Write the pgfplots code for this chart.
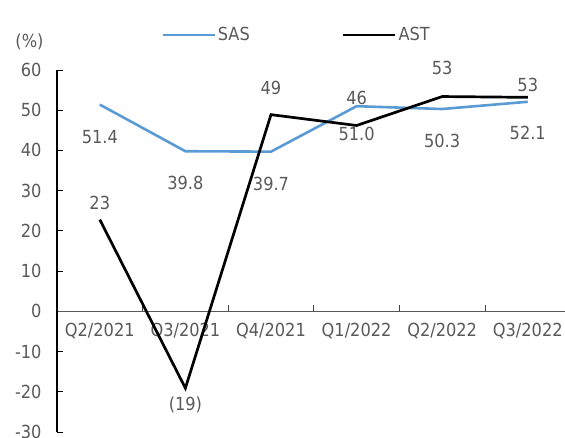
\documentclass[border=0pt]{standalone}
\usepackage{fontspec}
\setmainfont{DejaVu Sans Condensed}
\usepackage{pgfplots}
\pgfplotsset{compat=1.18}
\usepackage{pgfplotstable}
\definecolor{txt}{HTML}{595959}
\definecolor{sasblue}{HTML}{5B9BD5}
\pgfplotstableread{
x y lab dy
0 51.4 51.4 -32
1 39.8 39.8 -32
2 39.7 39.7 -32
3 51.0 51.0 -28
4 50.3 50.3 -32
5 52.1 52.1 -31
}\tabSAS
\pgfplotstableread{
x y lab dy
0 22.8 23 17
1 -19.1 (19) -17
2 48.9 49 27
3 46.2 46 28
4 53.4 53 29
5 53.2 53 12
}\tabAST
\begin{document}
\begin{tikzpicture}[font=\fontsize{18}{21}\selectfont]
\begin{axis}[
  at={(0pt,0pt)}, anchor=south west,
  scale only axis, width=508pt, height=362pt,
  xmin=-0.5, xmax=5.435, ymin=-30, ymax=60,
  axis x line*=middle, axis y line*=left,
  clip=false,
  ytick={-30,-20,-10,0,10,20,30,40,50,60},
  yticklabels={-30,-20,-10,0,10,20,30,40,50,60},
  xtick={0,1,2,3,4,5},
  xticklabels={Q2/2021,Q3/2021,Q4/2021,Q1/2022,Q2/2022,Q3/2022},
  minor xtick={0.5,1.5,2.5,3.5,4.5},
  tick align=inside,
  major tick length=6pt, minor tick length=6pt,
  major x tick style={draw=none},
  minor x tick style={draw=black!75, line width=0.9pt},
  y tick style={draw=black, line width=0.9pt},
  x axis line style={draw=black!65, line width=1.1pt},
  y axis line style={draw=black, line width=1.1pt},
  xticklabel style={text=txt, yshift=-8pt},
  yticklabel style={text=txt, xshift=-12pt},
  legend style={at={(axis description cs:0.4715,1.0967)}, anchor=center, draw=none, fill=none, text=txt,
    legend columns=2, /tikz/every even column/.append style={column sep=90pt}},
  legend image code/.code={\draw[#1] (0pt,0pt) -- (52pt,0pt);},
]
\addplot[sasblue, line width=2.6pt, nodes near coords, point meta=explicit symbolic,
  visualization depends on={\thisrow{dy}\as\dy},
  every node near coord/.append style={anchor=center, yshift=\dy pt, text=txt}]
  table[x=x, y=y, meta=lab]{\tabSAS};
\addlegendentry{SAS}
\addplot[black, line width=2.7pt, nodes near coords, point meta=explicit symbolic,
  visualization depends on={\thisrow{dy}\as\dy},
  every node near coord/.append style={anchor=center, yshift=\dy pt, text=txt}]
  table[x=x, y=y, meta=lab]{\tabAST};
\addlegendentry{AST}
\end{axis}
\node[text=txt] at (-27.5pt,390pt) {(\%)};
\pgfresetboundingbox
\path (-57pt,-6pt) rectangle (508pt,432pt);
\end{tikzpicture}
\end{document}
